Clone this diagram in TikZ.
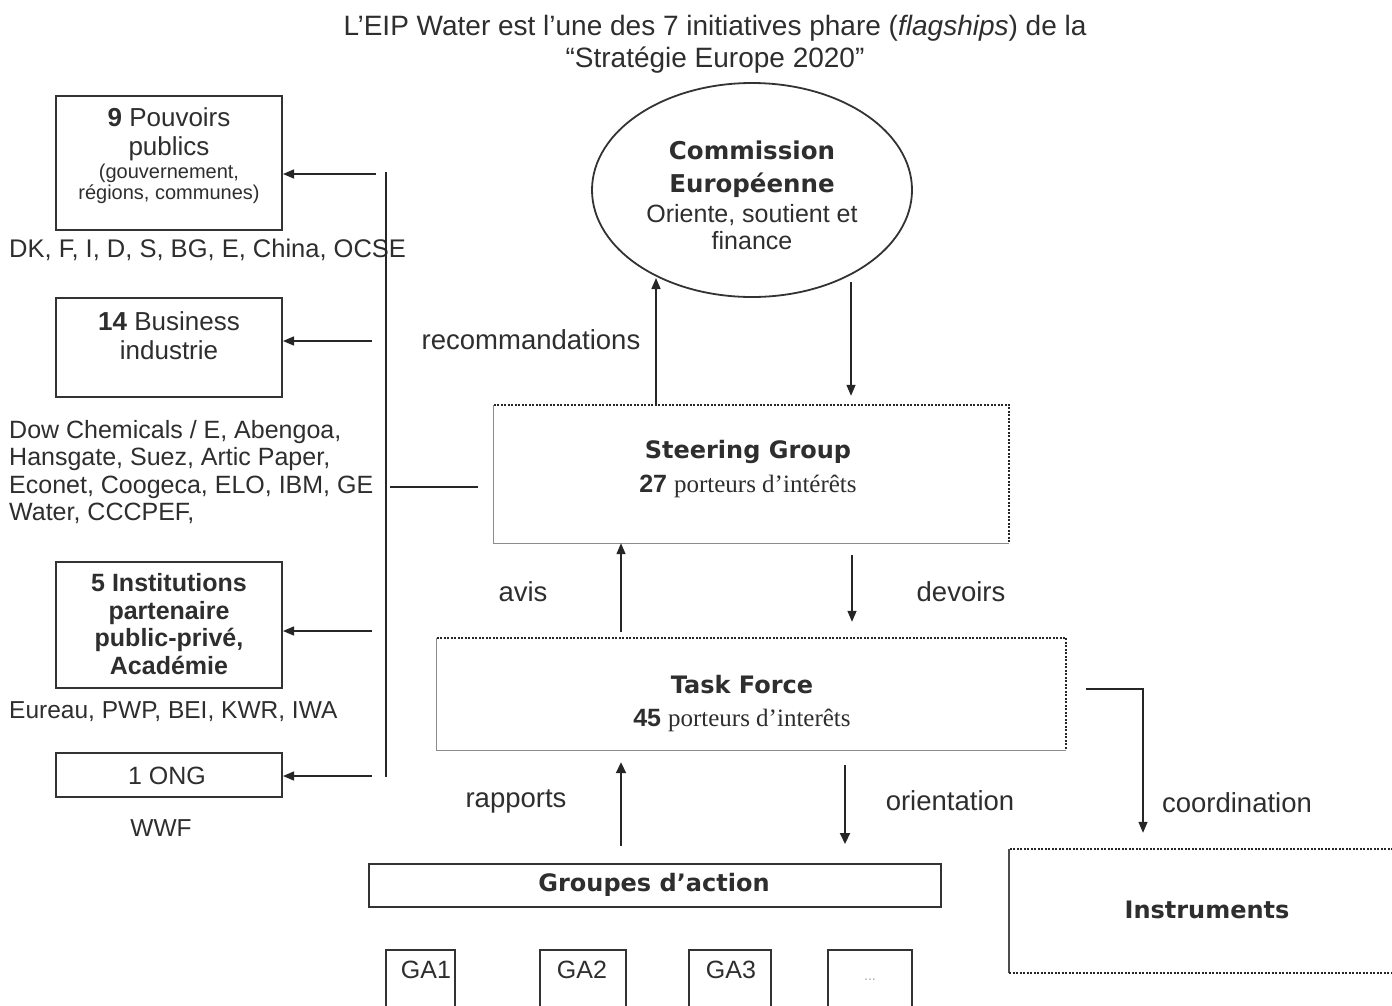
\documentclass[tikz,border=0pt]{standalone}
\usepackage{fontspec}
\setmainfont{Liberation Sans}
\newfontfamily\hdf{DejaVu Sans}
\newfontfamily\tmsf{Liberation Serif}
\usetikzlibrary{shapes.geometric,arrows.meta}
\newcommand\fsz[2]{\fontsize{#1}{#2}\selectfont}
\begin{document}
\begin{tikzpicture}[x=1pt,y=-1pt,
  box/.style={draw=black!80,line width=2pt,inner sep=0pt},
  hidden/.style={inner sep=0pt},
  txt/.style={inner sep=0pt,align=center,text=black!82},
  lab/.style={txt,font=\fsz{27.5}{30}},
  head/.style={txt,font=\hdf\bfseries\fsz{24}{28}},
  conn/.style={draw=black!85,line width=1.8pt},
  arr/.style={draw=black!85,line width=1.4pt,-{Triangle[length=11pt,width=9pt]}},
  arrb/.style={draw=black!85,line width=2pt,-{Triangle[length=11pt,width=10pt]}},
  dotb/.style={draw=black!85,line width=2pt,dash pattern=on 2pt off 1.5pt},
  thinb/.style={draw=black!45,line width=1.2pt}]
\useasboundingbox (0,0) rectangle (1392,1005);
\clip (0,0) rectangle (1392,1005);
\fill[white] (0,0) rectangle (1392,1005);

% title
\node[txt,font=\fsz{28}{32}] (title) at (715,44) {L'EIP Water est l'une des 7 initiatives phare (\textit{flagships}) de la\\“Stratégie Europe 2020”};

% left column
\node[box,minimum width=226,minimum height=134] (pp) at (169,163) {};
\node[txt,font=\fsz{26}{29}] (ppT1) at (169,134) {\textbf{9} Pouvoirs\\publics};
\node[txt,font=\fsz{20}{21.5}] (ppT2) at (169,184) {(gouvernement,\\régions, communes)};
\node[txt,font=\fsz{25.5}{28},anchor=west] (ppL) at (9,250) {DK, F, I, D, S, BG, E, China, OCSE};

\node[box,minimum width=226,minimum height=99] (bi) at (169,347.5) {};
\node[txt,font=\fsz{26}{29}] (biT) at (169,336) {\textbf{14} Business\\industrie};
\node[txt,font=\fsz{25}{27.5},anchor=west,align=left] (biL) at (9,472) {Dow Chemicals / E, Abengoa,\\Hansgate, Suez, Artic Paper,\\Econet, Coogeca, ELO, IBM, GE\\Water, CCCPEF,};

\node[box,minimum width=226,minimum height=126] (in) at (169,625) {};
\node[txt,font=\bfseries\fsz{25}{27.7}] (inT) at (169,624) {5 Institutions\\partenaire\\public-privé,\\Académie};
\node[txt,font=\fsz{24.5}{27},anchor=west] (inL) at (9,712) {Eureau, PWP, BEI, KWR, IWA};

\node[box,minimum width=226,minimum height=44] (ng) at (169,775) {};
\node[txt,font=\fsz{25}{27}] (ngT) at (167,776) {1 ONG};
\node[txt,font=\fsz{24.5}{27}] (ngL) at (161,828) {WWF};

% distribution line
\coordinate (vt) at (386,172);
\coordinate (vb) at (386,777);
\draw[conn] (vt) -- (vb);
\coordinate (a1) at (376,174);
\coordinate (a2) at (372,341);
\coordinate (a3) at (372,631);
\coordinate (a4) at (372,776);
\draw[arr] (a1) -- (a1 -| pp.east);
\draw[arr] (a2) -- (a2 -| bi.east);
\draw[arr] (a3) -- (a3 -| in.east);
\draw[arr] (a4) -- (a4 -| ng.east);

% Commission
\node[ellipse,draw=black!80,line width=1.8pt,minimum width=320,minimum height=214,inner sep=0pt] (ce) at (752,190) {};
\node[head,font=\hdf\bfseries\fsz{24.5}{33}] (ceT1) at (752,169) {Commission\\Européenne};
\node[txt,font=\fsz{25}{27}] (ceT2) at (752,227) {Oriente, soutient et\\finance};

% Steering group
\node[hidden,minimum width=515,minimum height=138] (sg) at (751.5,474) {};
\draw[thinb] (sg.north west) -- (sg.south west) -- (sg.south east);
\draw[dotb] (sg.north west) -- (sg.north east) -- (sg.south east);
\node[head] (sgT1) at (748,452) {Steering Group};
\node[txt,font=\fsz{25}{28}] (sgT2) at (748,486) {\textbf{27} {\tmsf\fsz{25}{28}porteurs d’intérêts}};

% Task force
\node[hidden,minimum width=629,minimum height=112] (tf) at (751.5,694) {};
\draw[thinb] (tf.north west) -- (tf.south west) -- (tf.south east);
\draw[dotb] (tf.north west) -- (tf.north east) -- (tf.south east);
\node[head] (tfT1) at (742,685) {Task Force};
\node[txt,font=\fsz{25}{28}] (tfT2) at (742,720) {\textbf{45} {\tmsf\fsz{25}{28}porteurs d’interêts}};

% Groupes d'action
\node[box,minimum width=572,minimum height=43] (gr) at (655,885.5) {};
\node[head] (grT) at (654,885) {Groupes d’action};

\node[box,minimum width=69,minimum height=80] (g1) at (420.5,990) {};
\node[box,minimum width=86,minimum height=80] (g2) at (583,990) {};
\node[box,minimum width=82,minimum height=80] (g3) at (730,990) {};
\node[box,minimum width=84,minimum height=80] (g4) at (870,990) {};
\node[txt,font=\fsz{25}{28}] (g1T) at (426,970) {GA1};
\node[txt,font=\fsz{25}{28}] (g2T) at (582,970) {GA2};
\node[txt,font=\fsz{25}{28}] (g3T) at (731,970) {GA3};
\node[txt,font=\fsz{14}{16},text=black!35] (g4T) at (870,980) {...};

% Instruments
\node[hidden,minimum width=391,minimum height=124] (ins) at (1204.75,911) {};
\draw[thinb,draw=black!70] (ins.north west) -- (ins.south west);
\draw[dotb] (ins.north east) -- (ins.north west);
\draw[dotb] (ins.south west) -- (ins.south east);
\node[head] (insT) at (1207,910) {Instruments};

% arrows in centre
\coordinate (r1) at (656,278);
\draw[arr] ([xshift=-95.5]sg.north) -- (r1);
\coordinate (d1) at (851,282);
\draw[arr,shorten >=9pt] (d1) -- (d1 |- sg.north);
\draw[arr,shorten <=6pt] ([xshift=-130.5]tf.north) -- ([xshift=-130.5]sg.south);
\draw[arr,shorten <=12pt,shorten >=16pt] ([xshift=100.5]sg.south) -- ([xshift=100.5]tf.north);
\draw[arrb,shorten <=17pt,shorten >=12pt] ([xshift=-34]gr.north) -- ([xshift=-130.5]tf.south);
\draw[arrb,shorten <=15pt,shorten >=19pt] ([xshift=93.5]tf.south) -- ([xshift=190]gr.north);

% Steering to left column
\coordinate (s1) at (390,487);
\coordinate (s2) at (478,487);
\draw[conn] (s1) -- (s2);

% coordination
\coordinate (c1) at (1086,689);
\coordinate (c2) at (1143,689);
\draw[arr,shorten >=16pt] (c1) -- (c2) -- (c2 |- ins.north);

% labels
\node[lab] (lrec) at (531,340) {recommandations};
\node[lab] (lavis) at (523,592) {avis};
\node[lab] (ldev) at (961,592) {devoirs};
\node[lab] (lrap) at (516,801) {rapports};
\node[lab] (lori) at (950,801) {orientation};
\node[lab] (lcoo) at (1237,803) {coordination};
\end{tikzpicture}
\end{document}
